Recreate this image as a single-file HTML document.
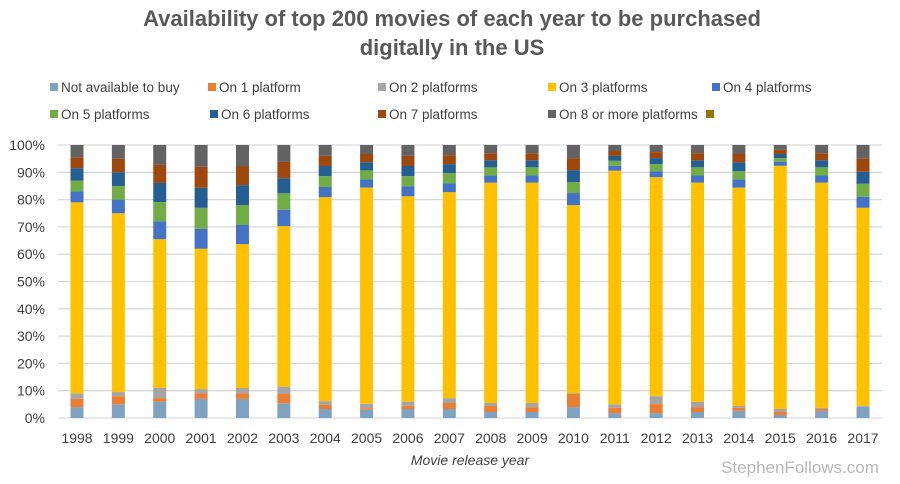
<!DOCTYPE html>
<html><head><meta charset="utf-8"><style>
body{margin:0;background:#fff;font-family:"Liberation Sans",sans-serif;}
#wrap{position:relative;width:900px;height:484px;overflow:hidden;}
</style></head><body>
<div id="wrap">
<svg id="svg" width="900" height="484" xmlns="http://www.w3.org/2000/svg">
<text x="452" y="26" text-anchor="middle" font-size="22" font-weight="bold" fill="#595959">Availability of top 200 movies of each year to be purchased</text>
<text x="452" y="55" text-anchor="middle" font-size="22" font-weight="bold" fill="#595959">digitally in the US</text>
<g id="legend"></g>
<g id="grid"></g>
<g id="bars"></g>
<g id="yaxis"></g>
<g id="xaxis"></g>
<text x="470" y="465" text-anchor="middle" font-size="14" font-style="italic" fill="#404040">Movie release year</text>
<text x="800" y="473" text-anchor="middle" font-size="17" fill="#b8b8b8">StephenFollows.com</text>
</svg>
</div>
<script>
const years = ["1998","1999","2000","2001","2002","2003","2004","2005","2006","2007","2008","2009","2010","2011","2012","2013","2014","2015","2016","2017"];
const seriesNames = ["Not available to buy","On 1 platform","On 2 platforms","On 3 platforms","On 4 platforms","On 5 platforms","On 6 platforms","On 7 platforms","On 8 or more platforms"];
const notAvailable = [4,5,6,7,7,5.4,3.3,3,3.3,3.3,2.2,2.2,4,1.8,1.8,2.2,2.6,1.1,2.6,4.1];
const onePlatform = [3,3,1.3,2,2,3.4,1.5,0.6,1.2,2.2,2.2,1.8,4.8,1.9,3.3,1.8,1.1,1.1,0.7,0];
const twoPlatforms = [2,1.5,3.7,1.6,2,2.7,1.4,1.6,1.5,1.8,1.1,1.5,0.3,1.3,2.9,1.9,0.7,1.1,0.4,0.4];
const threePlatforms = [70,65.5,54.5,51.4,52.7,58.8,74.8,79.2,75.3,75.5,80.7,80.9,68.9,85.6,80.3,80.5,80.0,89.1,82.7,72.5];
const fourPlatforms = [4,5,6.6,7.3,7,6,3.7,3,3.7,3.3,2.6,2.6,4.4,1.8,2.2,2.6,3,1.5,2.6,4];
const fivePlatforms = [4,5,7,7.7,7.3,6,4,3.3,3.7,3.7,3,3,4,1.8,2.6,3,3,1.3,3,4.8];
const sixPlatforms = [4.5,5,7,7.3,7.3,5.5,3.7,3,3.7,3.3,2.6,2.6,4.4,1.8,2.2,2.6,3.3,1.5,2.6,4.4];
const sevenPlatforms = [4,5,6.6,7.7,7,6,3.7,3,3.7,3.3,2.6,2.6,4.4,1.8,2.2,2.6,3,1.5,2.6,4.8];
const eightPlusPlatforms = [4.5,5,7.3,8,7.7,6.2,4,3.3,4,3.7,3,3,4.8,2.2,2.6,3,3.3,1.8,3,5];
const yTicks = ["0%","10%","20%","30%","40%","50%","60%","70%","80%","90%","100%"];

const series = [notAvailable,onePlatform,twoPlatforms,threePlatforms,fourPlatforms,fivePlatforms,sixPlatforms,sevenPlatforms,eightPlusPlatforms];
const colors = ["#7fa2c1","#ed7d31","#a5a5a5","#ffc000","#4472c4","#70ad47","#255e91","#9e480e","#636363"];
const NS="http://www.w3.org/2000/svg";
const y0=418, y1=145, x0=58, x1=882;
function yScale(v){return y0-(y0-y1)*v/100;}
function xScale(i){return 77+i*(863-77)/(years.length-1);}
function mk(tag,parent){const e=document.createElementNS(NS,tag);document.getElementById(parent).appendChild(e);return e;}

yTicks.forEach((t,i)=>{
  const v=i*10;
  const l=mk('line','grid');
  
  
  l.setAttribute('x1',x0);l.setAttribute('x2',x1);l.setAttribute('y1',yScale(v));l.setAttribute('y2',yScale(v));
  l.setAttribute('stroke','#d9d9d9');l.setAttribute('stroke-width','1.3');
  const tx=mk('text','yaxis');
  
  
  tx.setAttribute('x',45);tx.setAttribute('y',yScale(v)+5);tx.setAttribute('text-anchor','end');
  tx.setAttribute('font-size','14');tx.setAttribute('fill','#404040');tx.textContent=t;
});
years.forEach((yr,i)=>{
  let total=0;
  series.forEach(s=>{total+=s[i];});
  let cum=0;
  series.forEach((s,k)=>{
    const v=s[i]*100/total;
    const r=mk('rect','bars');
    
    
    r.setAttribute('x',xScale(i)-6.5);r.setAttribute('width',13);
    r.setAttribute('y',yScale(cum+v));r.setAttribute('height',Math.max(0,yScale(cum)-yScale(cum+v)));
    r.setAttribute('fill',colors[k]);
    cum+=v;
  });
  const tx=mk('text','xaxis');
  
  
  tx.setAttribute('x',xScale(i));tx.setAttribute('y',443);tx.setAttribute('text-anchor','middle');
  tx.setAttribute('font-size','14');tx.setAttribute('fill','#404040');tx.textContent=yr;
});
const legPos=[[50,87],[208,87],[378,87],[548,87],[712,87],[50,114],[210,114],[378,114],[548,114],[706,114]];
const legNames=seriesNames.concat([""]);
const legColors=colors.concat(["#997300"]);
legPos.forEach((p,i)=>{
  const r=mk('rect','legend');
  
  
  r.setAttribute('x',p[0]);r.setAttribute('y',p[1]-4);r.setAttribute('width',8);r.setAttribute('height',8);
  r.setAttribute('fill',legColors[i]);
  if(legNames[i]){
    const t=mk('text','legend');
    
    
    t.setAttribute('x',p[0]+11);t.setAttribute('y',p[1]+5);t.setAttribute('font-size','13.5');t.setAttribute('fill','#404040');
    t.textContent=legNames[i];
  }
});
</script>
</body></html>
